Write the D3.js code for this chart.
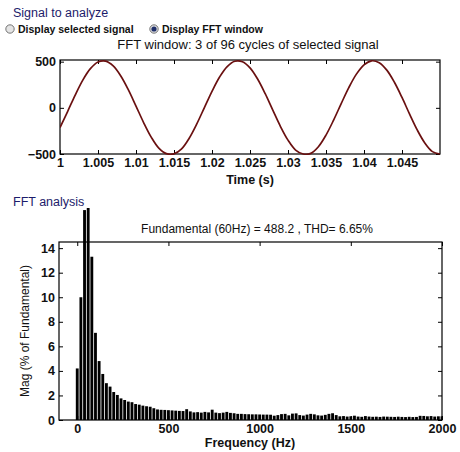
<!DOCTYPE html>
<html>
<head>
<meta charset="utf-8">
<script src="https://cdn.jsdelivr.net/npm/d3@7"></script>
<style>
  body { margin: 0; background: #fff; }
  text { font-family: "Liberation Sans", Arial, sans-serif; }
</style>
</head>
<body>
<div id="chart"></div>
<script>

// signal samples (every 1 ms from t = 1 s)
var sigStart = 1.0, sigStep = 0.001;
var sigValues = [-214, -40, 138, 300, 424, 496, 506, 454, 345, 194,
  19, -159, -317, -436, -496, -498, -444, -329, -174, 3,
  179, 334, 447, 504, 499, 433, 312, 153, -25, -200,
  -350, -457, -500, -493, -421, -295, -133, 46, 219, 365,
  466, 509, 489, 408, 277, 112, -68, -239, -380, -474, -500];

// FFT bins (20 Hz resolution, 0..2000 Hz), magnitude in % of fundamental
var binStep = 20;
var fftMag = [4.2, 10.0, 17.1, 100, 13.3, 7.1, 4.8, 3.75, 3.0, 2.72,
  2.28, 2.04, 1.76, 1.63, 1.5, 1.45, 1.3, 1.25, 1.17, 1.12,
  1.08, 0.96, 0.86, 0.83, 0.82, 0.8, 0.78, 0.76, 0.74, 0.73,
  0.88, 0.7, 0.62, 0.64, 0.6, 0.66, 0.62, 0.84, 0.6, 0.56,
  0.6, 0.66, 0.58, 0.55, 0.5, 0.5, 0.48, 0.47, 0.46, 0.46,
  0.45, 0.44, 0.44, 0.43, 0.35, 0.4, 0.48, 0.5, 0.38, 0.52,
  0.54, 0.4, 0.36, 0.44, 0.5, 0.46, 0.38, 0.36, 0.42, 0.5,
  0.55, 0.4, 0.3, 0.32, 0.28, 0.3, 0.35, 0.28, 0.26, 0.32,
  0.28, 0.26, 0.27, 0.25, 0.28, 0.27, 0.26, 0.25, 0.27, 0.25,
  0.24, 0.26, 0.24, 0.25, 0.34, 0.33, 0.3, 0.32, 0.28, 0.3, 0.3];

var timeTicks = [1, 1.005, 1.01, 1.015, 1.02, 1.025, 1.03, 1.035, 1.04, 1.045];
var sigTicks = [-500, 0, 500];
var freqTicks = [0, 500, 1000, 1500, 2000];
var magTicks = [0, 2, 4, 6, 8, 10, 12, 14];

var width = 460, height = 452;

var svg = d3.select("#chart")
    .append("svg")
    .attr("width", width)
    .attr("height", height);

// header texts and radio buttons
svg.append("text")
    .attr("x", 13).attr("y", 17)
    .attr("font-size", "12.5px")
    .attr("fill", "#1c1c6b")
    .text("Signal to analyze");

var radios = [
  {x: 10, label: "Display selected signal", on: false},
  {x: 154, label: "Display FFT window", on: true}
];
radios.forEach(function(r) {
  svg.append("circle")
      .attr("cx", r.x).attr("cy", 29).attr("r", 4.2)
      .attr("fill", "#e4e4e4")
      .attr("stroke", "#555").attr("stroke-width", 0.8);
  if (r.on) {
    svg.append("circle")
        .attr("cx", r.x).attr("cy", 29).attr("r", 2.6)
        .attr("fill", "#1f2f6a");
  }
  svg.append("text")
      .attr("x", r.x + 8).attr("y", 32.5)
      .attr("font-size", "10.5px")
      .attr("font-weight", "bold")
      .attr("fill", "#111")
      .text(r.label);
});

// ---------- upper plot: signal ----------
var m1 = {left: 60, right: 440, top: 60, bottom: 154};

var xTime = d3.scaleLinear()
    .domain([1, 1.05])
    .range([m1.left, m1.right]);

var ySig = d3.scaleLinear()
    .domain([-500, 518])
    .range([m1.bottom, m1.top]);

svg.append("text")
    .attr("x", 248).attr("y", 49)
    .attr("text-anchor", "middle")
    .attr("font-size", "13px")
    .attr("fill", "#111")
    .text("FFT window: 3 of 96 cycles of selected signal");

make_axes(svg, xTime, ySig, m1, timeTicks, sigTicks, function(d) { return d3.format("")(+d.toFixed(3)); });

svg.append("defs").append("clipPath")
    .attr("id", "clipSig")
    .append("rect")
    .attr("x", m1.left).attr("y", m1.top - 1)
    .attr("width", m1.right - m1.left)
    .attr("height", m1.bottom - m1.top + 2);

var line = d3.line()
    .x(function(d, i) { return xTime(sigStart + i * sigStep); })
    .y(function(d) { return ySig(d); })
    .curve(d3.curveCatmullRom);

svg.append("path")
    .datum(sigValues)
    .attr("clip-path", "url(#clipSig)")
    .attr("fill", "none")
    .attr("stroke", "#6a1010")
    .attr("stroke-width", 1.7)
    .attr("d", line);

svg.append("text")
    .attr("x", 250).attr("y", 184)
    .attr("text-anchor", "middle")
    .attr("font-size", "12.5px")
    .attr("font-weight", "bold")
    .attr("fill", "#111")
    .text("Time (s)");

// ---------- lower plot: FFT ----------
var m2 = {left: 59, right: 442, top: 242, bottom: 420};

svg.append("text")
    .attr("x", 13).attr("y", 206)
    .attr("font-size", "12.5px")
    .attr("fill", "#1c1c6b")
    .text("FFT analysis");

svg.append("text")
    .attr("x", 257).attr("y", 233)
    .attr("text-anchor", "middle")
    .attr("font-size", "12px")
    .attr("fill", "#111")
    .text("Fundamental (60Hz) = 488.2 , THD= 6.65%");

var xFreq = d3.scaleLinear()
    .domain([-100, 2000])
    .range([m2.left, m2.right]);

var yMag = d3.scaleLinear()
    .domain([0, 14.5])
    .range([m2.bottom, m2.top]);

// bars are allowed to stick out a bit above the axes, like in the original
svg.select("defs").append("clipPath")
    .attr("id", "clipFft")
    .append("rect")
    .attr("x", m2.left).attr("y", 208)
    .attr("width", m2.right - m2.left)
    .attr("height", m2.bottom - 208);

var barW = (xFreq(binStep) - xFreq(0)) * 0.78;

svg.append("g")
    .attr("clip-path", "url(#clipFft)")
    .selectAll("rect")
    .data(fftMag)
    .enter()
    .append("rect")
    .attr("x", function(d, i) { return xFreq(i * binStep) - barW / 2; })
    .attr("y", function(d) { return yMag(d); })
    .attr("width", barW)
    .attr("height", function(d) { return m2.bottom - yMag(d); })
    .attr("fill", "#000");

make_axes(svg, xFreq, yMag, m2, freqTicks, magTicks, d3.format("d"));

svg.append("text")
    .attr("x", 250).attr("y", 447)
    .attr("text-anchor", "middle")
    .attr("font-size", "12.5px")
    .attr("font-weight", "bold")
    .attr("fill", "#111")
    .text("Frequency (Hz)");

svg.append("text")
    .attr("transform", "translate(29," + 331 + ") rotate(-90)")
    .attr("text-anchor", "middle")
    .attr("font-size", "12px")
    .attr("fill", "#111")
    .text("Mag (% of Fundamental)");

function make_axes(svg, xScale, yScale, m, xTicks, yTicks, xFmt) {

  // bottom and left axes with inward ticks
  var gX = svg.append("g")
      .attr("transform", "translate(0," + m.bottom + ")")
      .call(d3.axisBottom(xScale).tickValues(xTicks).tickFormat(xFmt)
            .tickSizeInner(-4).tickSizeOuter(0).tickPadding(4));

  var gY = svg.append("g")
      .attr("transform", "translate(" + m.left + ",0)")
      .call(d3.axisLeft(yScale).tickValues(yTicks).tickFormat(d3.format("d"))
            .tickSizeInner(-4).tickSizeOuter(0).tickPadding(4));

  // mirrored ticks on top and right
  svg.append("g")
      .attr("transform", "translate(0," + m.top + ")")
      .call(d3.axisTop(xScale).tickValues(xTicks).tickFormat("")
            .tickSizeInner(-4).tickSizeOuter(0));

  svg.append("g")
      .attr("transform", "translate(" + m.right + ",0)")
      .call(d3.axisRight(yScale).tickValues(yTicks).tickFormat("")
            .tickSizeInner(-4).tickSizeOuter(0));

  svg.selectAll(".domain").remove();
  svg.selectAll(".tick line").attr("stroke", "#000");

  [gX, gY].forEach(function(g) {
    g.selectAll("text")
        .attr("font-size", "12.5px")
        .attr("font-weight", "bold")
        .attr("fill", "#111")
        .style("font-family", "'Liberation Sans', Arial, sans-serif");
  });

  // axes box
  svg.append("rect")
      .attr("x", m.left).attr("y", m.top)
      .attr("width", m.right - m.left)
      .attr("height", m.bottom - m.top)
      .attr("fill", "none")
      .attr("stroke", "#000")
      .attr("stroke-width", 1.2);
}

</script>
</body>
</html>
